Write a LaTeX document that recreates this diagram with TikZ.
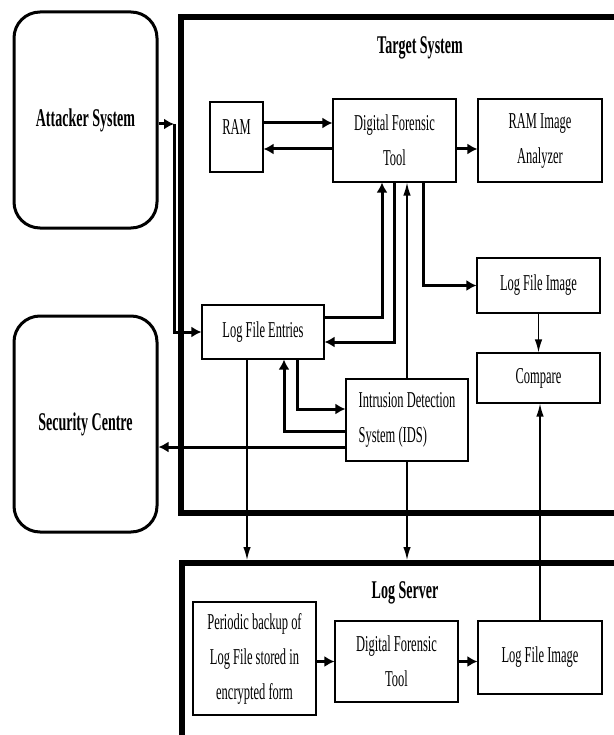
\documentclass[tikz,border=0pt]{standalone}
\usepackage{fontspec}
\setmainfont[FakeStretch=0.55]{Liberation Serif}
\usetikzlibrary{positioning,arrows.meta}

\begin{document}
\begin{tikzpicture}[
  x=1pt, y=-1pt, >=Latex,
  txt/.style={font=\fontsize{22.7}{35}\selectfont},
  box/.style={draw, line width=1.1pt, inner sep=0pt, align=center, txt},
  sysbox/.style={draw, line width=3pt, rounded corners=26pt, inner sep=0pt, minimum width=143pt, minimum height=216pt, font=\fontsize{25.5}{30}\selectfont\bfseries},
  title/.style={font=\fontsize{25.5}{30}\selectfont\bfseries},
  frame/.style={line width=6pt},
  link/.style={line width=3pt, -{Latex[length=10pt,width=11pt]}},
  wire/.style={line width=1.4pt, -{Latex[length=13pt,width=7.5pt]}},
]
\useasboundingbox (0,0) rectangle (613,735);

% outside systems
\node[sysbox] (att) at (85.5,120) {Attacker System};
\node[sysbox] (sec) at (85.5,424) {Security Centre};

% target system
\draw[frame] (650,17) -| (181,513) -- (650,513);
\node[title] (tgt) at (420,48) {Target System};
\node[box, minimum width=53pt, minimum height=70pt, text depth=20pt] (ram) at (236.5,137) {RAM};
\node[box, minimum width=123pt, minimum height=83pt] (dft) at (394.5,140.5) {Digital Forensic\\Tool};
\node[box, minimum width=124pt, minimum height=83pt] (rimg) at (540,140.5) {RAM Image\\Analyzer};
\node[box, minimum width=123pt, minimum height=55pt] (lfimg) at (538.5,285.5) {Log File Image};
\node[box, minimum width=123pt, minimum height=50pt] (cmp) at (538.5,378) {Compare};
\node[box, minimum width=122pt, minimum height=54pt] (lfe) at (263,332) {Log File Entries};
\node[box, minimum width=122pt, minimum height=82pt, align=left] (ids) at (407,420) {Intrusion Detection\\System (IDS)};

% log server
\draw[frame] (650,563) -| (182,760);
\node[title] (lsrv) at (405,593) {Log Server};
\node[box, minimum width=123pt, minimum height=113pt] (bak) at (254.5,658.5) {Periodic backup of\\Log File stored in\\encrypted form};
\node[box, minimum width=123pt, minimum height=81pt] (dft2) at (396.5,661.5) {Digital Forensic\\Tool};
\node[box, minimum width=124pt, minimum height=73pt, text depth=6pt] (lfimg2) at (540,657.5) {Log File Image};

\coordinate (jn) at (174,124);
\coordinate (lsin) at (247,560);

% connectors
\draw[link] (att.east |- jn) -- (jn);
\draw[link] (jn) |- (lfe.west);
\draw[link] ([yshift=14pt]ram.east) -- ([yshift=17.5pt]dft.west);
\draw[link] ([yshift=-8.5pt]dft.west) -- ([yshift=-12pt]ram.east);
\draw[link] ([yshift=-8.5pt]dft.east) -- ([yshift=-8.5pt]rimg.west);
\draw[link] ([xshift=28.5pt]dft.south) |- (lfimg.west);
\draw[wire] (lfimg) -- (cmp);
\draw[link] ([yshift=15pt]lfe.east) -| ([xshift=-12.5pt]dft.south);
\draw[link] (dft.south) |- ([yshift=-10pt]lfe.east);
\draw[wire] (ids.north) -- (ids.north |- dft.south);
\draw[link] ([xshift=34pt]lfe.south) |- ([yshift=11pt]ids.west);
\draw[link] ([yshift=-11pt]ids.west) -| ([xshift=21pt]lfe.south);
\draw[link] ([yshift=-27pt]ids.west) -- ([yshift=-23pt]sec.east);
\draw[wire] (lfe.south -| lsin) -- (lsin);
\draw[wire] (ids.south) -- (ids.south |- lsin);
\draw[link] (bak.east |- dft2) -- (dft2);
\draw[link] (dft2.east) -- (dft2.east -| lfimg2.west);
\draw[wire] (lfimg2.north) -- (lfimg2.north |- cmp.south);
\end{tikzpicture}
\end{document}
